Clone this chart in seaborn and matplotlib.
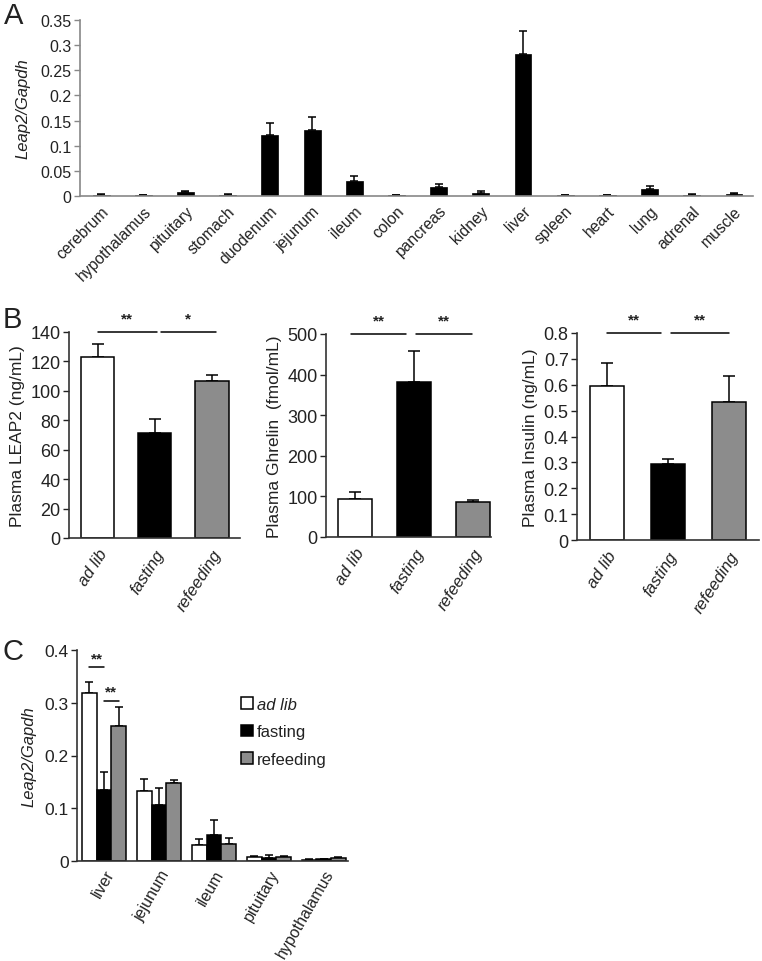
import numpy as np
import pandas as pd
import seaborn as sns
import matplotlib.pyplot as plt

# ── data ───────────────────────────────────────────────────────────────
tissues_a = ["cerebrum", "hypothalamus", "pituitary", "stomach", "duodenum",
             "jejunum", "ileum", "colon", "pancreas", "kidney", "liver",
             "spleen", "heart", "lung", "adrenal", "muscle"]
leap2_a = [0.002, 0.001, 0.008, 0.002, 0.122, 0.131, 0.029, 0.001,
           0.018, 0.005, 0.283, 0.001, 0.001, 0.014, 0.002, 0.004]
leap2_a_err = [0.001, 0.0005, 0.002, 0.001, 0.024, 0.026, 0.011, 0.0005,
               0.005, 0.004, 0.045, 0.0005, 0.0005, 0.005, 0.001, 0.002]

conditions = ["ad lib", "fasting", "refeeding"]
plasma_leap2 = [123, 71.5, 106.5]
plasma_leap2_err = [9, 9.5, 4.5]
plasma_ghrelin = [93, 382, 85]
plasma_ghrelin_err = [17, 75, 6]
plasma_insulin = [0.595, 0.292, 0.535]
plasma_insulin_err = [0.09, 0.022, 0.098]

tissues_c = ["liver", "jejunum", "ileum", "pituitary", "hypothalamus"]
c_adlib = [0.318, 0.133, 0.030, 0.008, 0.002]
c_adlib_err = [0.021, 0.023, 0.011, 0.002, 0.001]
c_fasting = [0.135, 0.106, 0.049, 0.006, 0.003]
c_fasting_err = [0.034, 0.033, 0.028, 0.006, 0.001]
c_refeeding = [0.255, 0.147, 0.032, 0.008, 0.006]
c_refeeding_err = [0.036, 0.007, 0.011, 0.002, 0.002]

# ── style ──────────────────────────────────────────────────────────────
sns.set_theme(style="ticks")
plt.rcParams["font.family"] = ["Liberation Sans", "DejaVu Sans"]
plt.rcParams["text.color"] = "#222222"
plt.rcParams["axes.labelcolor"] = "#222222"
plt.rcParams["xtick.color"] = "#222222"
plt.rcParams["ytick.color"] = "#222222"

W, H = 762, 962
fig = plt.figure(figsize=(W / 100, H / 100), dpi=100)


def px_axes(left, top, right, bottom):
    return fig.add_axes([left / W, 1 - bottom / H, (right - left) / W, (bottom - top) / H])


def upper_err(ax, xs, ys, errs, cap=3.5):
    ax.errorbar(xs, ys, yerr=[np.zeros(len(errs)), errs], fmt="none",
                ecolor="black", elinewidth=1.1, capsize=cap, capthick=1.1, zorder=1)


cond_palette = ["white", "black", "#8c8c8c"]

# ── panel A ────────────────────────────────────────────────────────────
ax_a = px_axes(80, 21, 753, 197)
sns.barplot(x=tissues_a, y=leap2_a, color="black", width=0.4, saturation=1,
            edgecolor="black", linewidth=0.5, errorbar=None, ax=ax_a, zorder=2)
upper_err(ax_a, np.arange(len(tissues_a)), leap2_a, leap2_a_err, cap=3)
ax_a.set_ylim(0, 0.35)
ax_a.set_xlim(-0.5, 15.45)
ax_a.set_yticks(np.arange(0, 0.351, 0.05))
ax_a.set_yticklabels(["0", "0.05", "0.1", "0.15", "0.2", "0.25", "0.3", "0.35"])
ax_a.tick_params(axis="y", labelsize=11.5, length=4, color="#888888", width=1, pad=2)
ax_a.tick_params(axis="x", length=0, labelsize=11.3, pad=5)
plt.setp(ax_a.get_xticklabels(), rotation=45, ha="right", rotation_mode="anchor")
ax_a.set_ylabel("Leap2/Gapdh", style="italic", fontsize=12, labelpad=7)
sns.despine(ax=ax_a)
for s in ["left", "bottom"]:
    ax_a.spines[s].set_color("#888888")
    ax_a.spines[s].set_linewidth(1.2)
fig.text(4 / W, 1 - 24 / H, "A", fontsize=21)


# ── panel B ────────────────────────────────────────────────────────────
def plasma_panel(ax, vals, errs, ylim, yticks, ticklabels, ylabel, sig, xlim, width):
    sns.barplot(x=conditions, y=vals, hue=conditions, palette=cond_palette,
                saturation=1, edgecolor="black", linewidth=1.1, width=width,
                errorbar=None, legend=False, ax=ax, zorder=2)
    upper_err(ax, np.arange(3), vals, errs, cap=4)
    ax.set_ylim(*ylim)
    ax.set_xlim(*xlim)
    ax.set_yticks(yticks)
    ax.set_yticklabels(ticklabels)
    ax.tick_params(axis="y", labelsize=13, length=4, width=1, pad=2)
    ax.tick_params(axis="x", length=0, labelsize=12, pad=6)
    ax.set_xticks(range(3))
    ax.set_xticklabels(conditions, style="italic")
    plt.setp(ax.get_xticklabels(), rotation=57, ha="right", rotation_mode="anchor")
    ax.set_ylabel(ylabel, fontsize=12.5, labelpad=4)
    sns.despine(ax=ax)
    for s in ["left", "bottom"]:
        ax.spines[s].set_color("#333333")
        ax.spines[s].set_linewidth(1.2)
    for x0, x1, label in sig:
        ax.plot([x0, x1], [ylim[1], ylim[1]], color="black", lw=1.1,
                clip_on=False, transform=ax.transData)
        ax.annotate(label, xy=((x0 + x1) / 2, ylim[1]), xytext=(0, 5),
                    textcoords="offset points", ha="center", va="bottom",
                    fontsize=11, fontweight="bold", annotation_clip=False)


ax_b1 = px_axes(69, 333, 240, 539)
plasma_panel(ax_b1, plasma_leap2, plasma_leap2_err, (0, 140), range(0, 141, 20),
             [str(v) for v in range(0, 141, 20)], "Plasma LEAP2 (ng/mL)",
             [(0, 1.03, "**"), (1.1, 2.07, "*")], (-0.5, 2.49), 0.58)

ax_b2 = px_axes(326, 335, 491, 538)
plasma_panel(ax_b2, plasma_ghrelin, plasma_ghrelin_err, (0, 500), range(0, 501, 100),
             [str(v) for v in range(0, 501, 100)], "Plasma Ghrelin  (fmol/mL)",
             [(-0.06, 0.86, "**"), (1.03, 1.98, "**")], (-0.49, 2.3), 0.58)

ax_b3 = px_axes(577, 334, 759, 541)
ins_ticks = np.arange(0, 0.81, 0.1)
plasma_panel(ax_b3, plasma_insulin, plasma_insulin_err, (0, 0.8), ins_ticks,
             ["0"] + [f"{v:.1f}" for v in ins_ticks[1:]], "Plasma Insulin (ng/mL)",
             [(0, 0.88, "**"), (1.05, 2.0, "**")], (-0.49, 2.49), 0.57)

fig.text(3 / W, 1 - 328 / H, "B", fontsize=21)

# ── panel C ────────────────────────────────────────────────────────────
df_c = pd.DataFrame({
    "tissue": tissues_c * 3,
    "condition": ["ad lib"] * 5 + ["fasting"] * 5 + ["refeeding"] * 5,
    "value": c_adlib + c_fasting + c_refeeding,
    "err": c_adlib_err + c_fasting_err + c_refeeding_err,
})

ax_c = px_axes(77, 651, 348, 862)
sns.barplot(data=df_c, x="tissue", y="value", hue="condition", palette=cond_palette,
            saturation=1, edgecolor="black", linewidth=1.1, width=0.8,
            errorbar=None, ax=ax_c, zorder=2)
bar_conts = list(ax_c.containers)
for cont, cond in zip(bar_conts, conditions):
    sub = df_c[df_c["condition"] == cond]
    xs = [b.get_x() + b.get_width() / 2 for b in cont]
    upper_err(ax_c, xs, sub["value"].values, sub["err"].values, cap=3)

ax_c.set_ylim(0, 0.4)
ax_c.set_xlim(-0.49, 4.44)
ax_c.set_yticks([0, 0.1, 0.2, 0.3, 0.4])
ax_c.set_yticklabels(["0", "0.1", "0.2", "0.3", "0.4"])
ax_c.tick_params(axis="y", labelsize=12.5, length=4, width=1, pad=2)
ax_c.tick_params(axis="x", length=0, labelsize=11.5, pad=4)
plt.setp(ax_c.get_xticklabels(), rotation=60, ha="right", rotation_mode="anchor")
ax_c.set_xlabel("")
ax_c.set_ylabel("Leap2/Gapdh", style="italic", fontsize=12, labelpad=6)
sns.despine(ax=ax_c)
for s in ["left", "bottom"]:
    ax_c.spines[s].set_color("#333333")
    ax_c.spines[s].set_linewidth(1.2)

# significance marks over liver
liver_x = [cont[0].get_x() + cont[0].get_width() / 2 for cont in bar_conts]
for (x0, x1), y in [((liver_x[0], liver_x[1]), 0.367), ((liver_x[1], liver_x[2]), 0.304)]:
    ax_c.plot([x0, x1], [y, y], color="black", lw=1.1, clip_on=False)
    ax_c.text((x0 + x1) / 2, y + 0.004, "**", ha="center", va="bottom",
              fontsize=11, fontweight="bold")

leg = ax_c.legend(loc="upper left", bbox_to_anchor=(0.58, 0.81), frameon=False,
                  fontsize=12, handlelength=0.7, handleheight=0.7,
                  handletextpad=0.25, labelspacing=0.75, borderaxespad=0)
leg.get_texts()[0].set_style("italic")

fig.text(3 / W, 1 - 660 / H, "C", fontsize=21)

fig.savefig("out.png", dpi=100, facecolor="white")
